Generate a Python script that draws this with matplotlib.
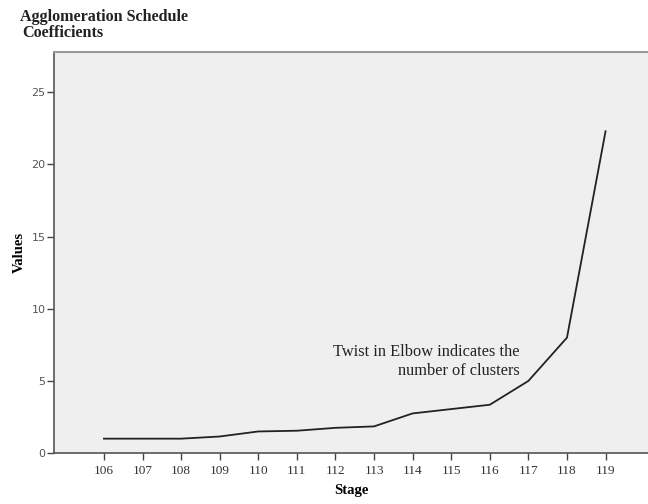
import numpy as np
import matplotlib.pyplot as plt

# Agglomeration schedule coefficients (last stages)
stages = [106, 107, 108, 109, 110, 111, 112, 113, 114, 115, 116, 117, 118, 119]
coefs = [1.0, 1.0, 1.0, 1.15, 1.5, 1.55, 1.75, 1.85, 2.75, 3.05, 3.35, 5.0, 8.0, 22.3]
yticks = [0, 5, 10, 15, 20, 25]

plt.rcParams['font.family'] = ['Liberation Serif', 'DejaVu Serif']

fig = plt.figure(figsize=(6.48, 5.04), dpi=100)
ax = fig.add_axes([0.083, 0.101, 0.917, 0.796])
ax.set_facecolor('#efefef')

ax.plot(stages, coefs, color='#222222', lw=1.3)

ax.set_xlim(104.7, 120.1)
ax.set_ylim(0, 27.8)
ax.set_xticks(stages)
ax.set_yticks(yticks)
ax.tick_params(axis='both', direction='out', length=5, width=1, colors='#444444', labelcolor='#333333')
ax.tick_params(axis='x', labelsize=9.5)
ax.tick_params(axis='y', pad=1, labelsize=8, labelcolor='#555555')
for lb in ax.get_yticklabels():
    lb.set_family('DejaVu Sans')

for s in ['left', 'bottom']:
    ax.spines[s].set_color('#555555')
    ax.spines[s].set_linewidth(1.2)
ax.spines['top'].set_color('#999999')
ax.spines['top'].set_linewidth(1.5)
ax.spines['right'].set_visible(False)

ax.set_xlabel('Stage', fontsize=10.5, fontweight='bold', labelpad=5)
ax.set_ylabel('Values', fontsize=10.5, fontweight='bold', labelpad=4)

ax.text(116.78, 5.1, 'Twist in Elbow indicates the\nnumber of clusters', ha='right', va='bottom',
        fontsize=11.8, color='#222222', multialignment='right', linespacing=1.3)

fig.text(0.031, 0.967, 'Agglomeration Schedule', fontsize=11.6, fontweight='bold', ha='left', va='center', color='#222222')
fig.text(0.034, 0.934, 'Coefficients', fontsize=11.6, fontweight='bold', ha='left', va='center', color='#222222')

fig.savefig('out.png', dpi=100, facecolor='white')
